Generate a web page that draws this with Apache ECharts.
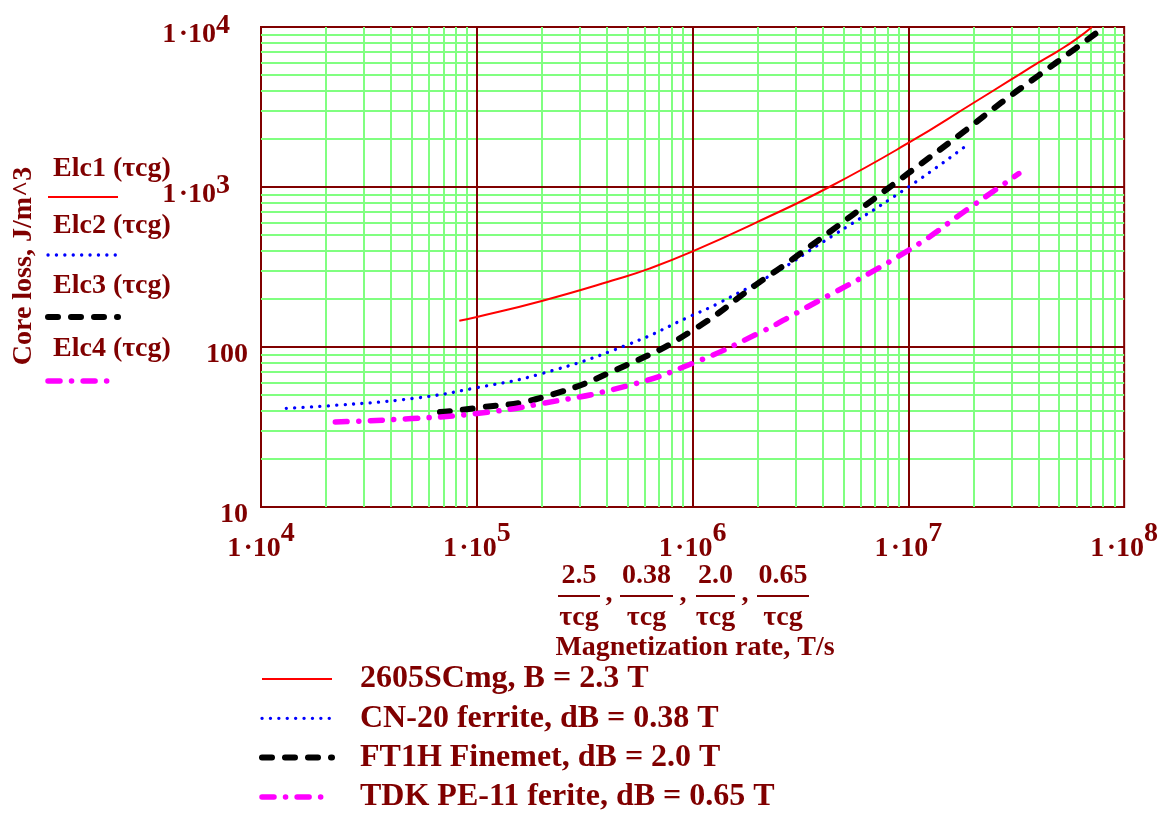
<!DOCTYPE html>
<html><head><meta charset="utf-8">
<script src="https://cdn.jsdelivr.net/npm/echarts@6/dist/echarts.min.js"></script>
<style>html,body{margin:0;padding:0;background:#fff}#c{width:1161px;height:816px}</style>
</head><body><div id="c"></div>
<script>
// ---- data ----
const elc1X = [8.3e4, 1e5, 2e5, 4.44e5, 6.3e5, 1e6, 2e6, 4.3e6, 1e7, 2e7, 3e7, 4e7, 5e7, 6e7, 7.1e7];
const elc1Y = [146, 154, 194, 265, 309, 396, 605, 1000, 1884, 3350, 4700, 5980, 7150, 8400, 10000];
const elc2X = [1.31e4, 2e4, 5e4, 1e5, 2e5, 4.93e5, 1e6, 1.31e6, 2.44e6, 3.8e6, 1e7, 1.89e7];
const elc2Y = [41.4, 42.8, 47.6, 55.7, 68.2, 102.6, 158, 187, 294, 432, 1000, 1849];
const elc3X = [6.75e4, 1e5, 2e5, 4.93e5, 1e6, 2e6, 3e6, 1e7, 1.84e7, 2.72e7, 4.02e7, 5.94e7, 8.1e7];
const elc3Y = [39.2, 41.6, 48.3, 77, 127, 249, 365, 1220, 2258, 3399, 4990, 7330, 10000];
const elc4X = [2.21e4, 5e4, 1e5, 2e5, 4.93e5, 1e6, 2e6, 3e6, 1e7, 1.9e7, 3.25e7];
const elc4Y = [34.0, 35.7, 38.4, 44.3, 57, 79, 121, 162, 402, 733, 1213];

const seriesNames = ['2605SCmg, B = 2.3 T', 'CN-20 ferrite, dB = 0.38 T', 'FT1H Finemet, dB = 2.0 T', 'TDK PE-11 ferite, dB = 0.65 T'];
const traceLabels = ['Elc1 (\u03C4cg)', 'Elc2 (\u03C4cg)', 'Elc3 (\u03C4cg)', 'Elc4 (\u03C4cg)'];
const numerators = ['2.5', '0.38', '2.0', '0.65'];
const denominator = '\u03C4cg';
const xTitle = 'Magnetization rate, T/s';
const yTitle = 'Core loss, J/m^3';

const xDecades = [1e4, 1e5, 1e6, 1e7];
const yDecades = [10, 100, 1000];
const minorMult = [2, 3, 4, 5, 6, 7, 8, 9];
const xMajor = [1e5, 1e6, 1e7];
const yMajor = [100, 1000];

// ---- styles ----
const MAROON = '#800000';
const GREEN = '#80ff80';
const FONT = "'Liberation Serif', 'Times New Roman', serif";
const lineStyles = [
  { color: '#ff0000', width: 2, type: 'solid', cap: 'butt' },
  { color: '#0000ff', width: 3.3, type: [0.1, 8.3], cap: 'round' },
  { color: '#000000', width: 6, type: [10, 13], cap: 'round' },
  { color: '#ff00ff', width: 5.5, type: [12, 11.5, 0.1, 11.5], cap: 'round' }
];

function zip(xs, ys) { return xs.map((x, i) => [x, ys[i]]); }
const dataSets = [zip(elc1X, elc1Y), zip(elc2X, elc2Y), zip(elc3X, elc3Y), zip(elc4X, elc4Y)];

const minorLines = [].concat(
  ...xDecades.map(d => minorMult.map(m => ({ xAxis: d * m }))),
  ...yDecades.map(d => minorMult.map(m => ({ yAxis: d * m })))
);
const majorLines = [].concat(xMajor.map(v => ({ xAxis: v })), yMajor.map(v => ({ yAxis: v })));

const txt = { fontFamily: FONT, fontWeight: 'bold', fontSize: 28, color: MAROON };
function sup(v) { return Math.round(Math.log10(v)); }

const series = dataSets.map((d, i) => {
  const s = {
    name: seriesNames[i], type: 'line', data: d, symbol: 'none', showSymbol: false,
    smooth: 0.5, z: 3, clip: true,
    lineStyle: { color: lineStyles[i].color, width: lineStyles[i].width, type: lineStyles[i].type, cap: lineStyles[i].cap },
    itemStyle: { color: lineStyles[i].color },
    emphasis: { disabled: true }
  };
  if (i === 0 || i === 1) {
    s.markLine = {
      silent: true, symbol: ['none', 'none'], label: { show: false }, animation: false,
      emphasis: { disabled: true }, z: i === 0 ? 1 : 1.5,
      lineStyle: { color: i === 0 ? GREEN : MAROON, width: 2, type: 'solid' },
      data: i === 0 ? minorLines : majorLines
    };
  }
  return s;
});

// ---- graphic decorations (titles, fraction label, trace legend) ----
const graphic = [];
const leftTextY = [169, 226, 286, 349];
const leftLineY = [197, 255, 317, 381];
traceLabels.forEach((t, i) => {
  graphic.push({ type: 'text', x: 53, y: leftTextY[i], style: { text: t, fill: MAROON, font: "bold 28px " + FONT, align: 'left', verticalAlign: 'middle' } });
  const ls = lineStyles[i];
  graphic.push({ type: 'line', shape: { x1: 48, y1: leftLineY[i], x2: 118, y2: leftLineY[i] },
    style: { stroke: ls.color, lineWidth: ls.width, lineDash: ls.type === 'solid' ? null : ls.type, lineCap: ls.cap } });
});
const fracBars = [[558, 600], [620, 673], [696, 735], [757, 809]];
const commaX = [609, 683, 745];
numerators.forEach((n, i) => {
  const cx = (fracBars[i][0] + fracBars[i][1]) / 2;
  graphic.push({ type: 'text', x: cx, y: 576, style: { text: n, fill: MAROON, font: "bold 28px " + FONT, align: 'center', verticalAlign: 'middle' } });
  graphic.push({ type: 'line', shape: { x1: fracBars[i][0], y1: 596, x2: fracBars[i][1], y2: 596 }, style: { stroke: MAROON, lineWidth: 2 } });
  graphic.push({ type: 'text', x: cx, y: 618, style: { text: denominator, fill: MAROON, font: "bold 28px " + FONT, align: 'center', verticalAlign: 'middle' } });
});
commaX.forEach(x => graphic.push({ type: 'text', x: x, y: 594, style: { text: ',', fill: MAROON, font: "bold 28px " + FONT, align: 'center', verticalAlign: 'middle' } }));
graphic.push({ type: 'text', x: 695, y: 648, style: { text: xTitle, fill: MAROON, font: "bold 28px " + FONT, align: 'center', verticalAlign: 'middle' } });
graphic.push({ type: 'text', x: 24, y: 266, rotation: Math.PI / 2, style: { text: yTitle, fill: MAROON, font: "bold 28px " + FONT, align: 'center', verticalAlign: 'middle' } });

const option = {
  animation: false,
  backgroundColor: '#ffffff',
  grid: { left: 261, top: 27, width: 864, height: 480, show: true, borderColor: MAROON, borderWidth: 2, backgroundColor: 'transparent' },
  xAxis: {
    type: 'log', logBase: 10, min: 1e4, max: 1e8,
    axisLine: { show: false }, axisTick: { show: false }, splitLine: { show: false },
    axisLabel: {
      margin: 19,
      formatter: v => '{a|1\u200A\u00B710}{s|' + sup(v) + '}',
      rich: {
        a: Object.assign({}, txt, { lineHeight: 46, verticalAlign: 'middle' }),
        s: Object.assign({}, txt, { lineHeight: 30, verticalAlign: 'middle', padding: [0, 0, 30, 0] })
      }
    }
  },
  yAxis: {
    type: 'log', logBase: 10, min: 10, max: 1e4,
    axisLine: { show: false }, axisTick: { show: false }, splitLine: { show: false },
    axisLabel: {
      margin: 13, padding: [15, 0, 0, 0],
      formatter: v => (v < 1000 ? '{a|' + Math.round(v) + '}' : '{a|1\u200A\u00B710}{s|' + sup(v) + '}'),
      rich: {
        a: Object.assign({}, txt, { lineHeight: 34, verticalAlign: 'middle' }),
        s: Object.assign({}, txt, { lineHeight: 30, verticalAlign: 'middle', padding: [0, 18, 18, 0] })
      }
    }
  },
  legend: {
    orient: 'vertical', left: 259, top: 662, padding: 0,
    itemWidth: 70, itemHeight: 14, itemGap: 5.3, selectedMode: false,
    itemStyle: { opacity: 0 },
    data: seriesNames.map((n, i) => ({ name: n, lineStyle: { color: lineStyles[i].color, width: lineStyles[i].width, type: lineStyles[i].type, cap: lineStyles[i].cap } })),
    formatter: n => '{t|' + n + '}',
    textStyle: {
      fontFamily: FONT, fontWeight: 'bold', fontSize: 32, color: MAROON, lineHeight: 34,
      rich: { t: { fontFamily: FONT, fontWeight: 'bold', fontSize: 32, color: MAROON, lineHeight: 34, padding: [0, 0, 0, 23] } }
    }
  },
  graphic: graphic,
  series: series
};
const chart = echarts.init(document.getElementById('c'), null, { renderer: 'canvas' });
chart.setOption(option);
</script>
</body></html>
